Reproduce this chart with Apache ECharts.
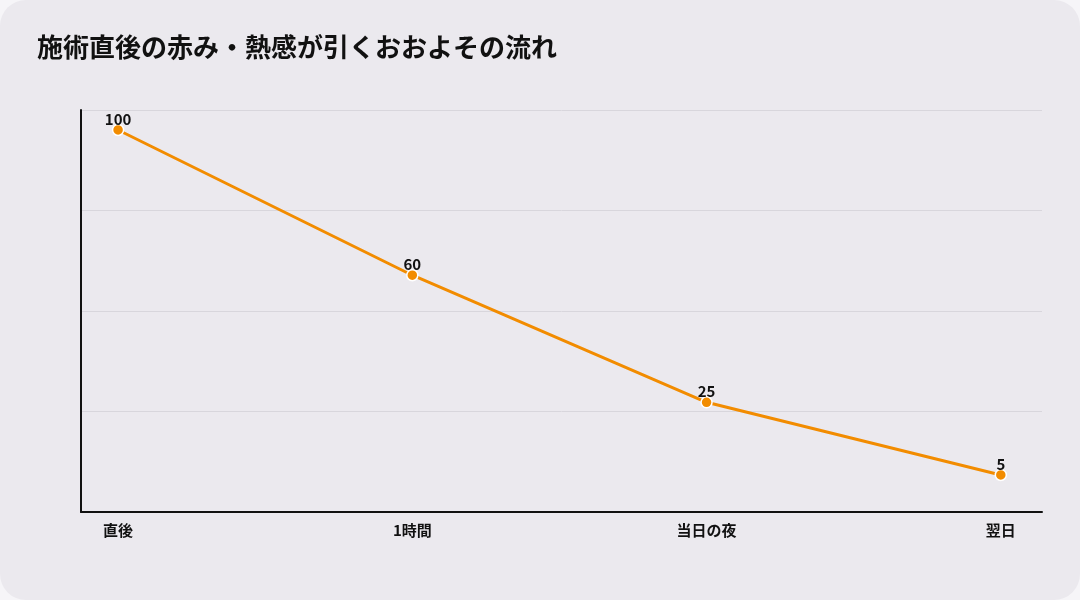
<!DOCTYPE html>
<html lang="ja">
<head>
<meta charset="UTF-8">
<title>施術直後の赤み・熱感が引くおおよその流れ</title>
<script src="https://cdn.jsdelivr.net/npm/echarts@6/dist/echarts.min.js"></script>
<style>
  html, body { width: 100%; height: 100%; margin: 0; background: #f6f5f8; }
  #chart { width: 1080px; height: 600px; background: #ebe9ee; border-radius: 26px; }
</style>
</head>
<body>
<div id="chart"></div>
<script>
// 時点と目安値
var categories = ['直後', '1時間', '当日の夜', '翌日'];
var values = [100, 60, 25, 5];

var chart = echarts.init(document.getElementById('chart'));
var font = '"Noto Sans CJK JP", "Noto Sans", sans-serif';

// x は値軸にして、カテゴリ位置を0,1,2,3に置く
var points = values.map(function (v, i) { return [i, v]; });

chart.setOption({
  backgroundColor: 'transparent',
  title: {
    text: '施術直後の赤み・熱感が引くおおよその流れ',
    left: 32, top: 29,
    textStyle: { fontFamily: font, fontSize: 26, fontWeight: 'bold', color: '#111' }
  },
  grid: { left: 81, right: 38, top: 110, bottom: 88 },
  xAxis: {
    type: 'value',
    min: -0.126, max: 3.14,
    axisLine: { show: true, lineStyle: { color: '#111', width: 2 } },
    axisTick: { show: false },
    splitLine: { show: false },
    axisLabel: {
      customValues: [0, 1, 2, 3],
      formatter: function (v) { return categories[Math.round(v)]; },
      margin: 11,
      fontFamily: font, fontSize: 15, fontWeight: 'bold', color: '#111'
    }
  },
  yAxis: [{
    // 補助線用
    type: 'value', min: 0, max: 4, interval: 1,
    axisLine: { show: true, onZero: false, lineStyle: { color: '#111', width: 2 } },
    axisTick: { show: false },
    axisLabel: { show: false },
    splitLine: { show: true, lineStyle: { color: '#d8d6dc', width: 1 } }
  }, {
    type: 'value', min: -5.2, max: 105.5,
    show: false,
    splitLine: { show: false }
  }],
  series: [{
    type: 'line',
    yAxisIndex: 1,
    data: points,
    symbol: 'circle',
    symbolSize: 11,
    lineStyle: { color: '#f28c00', width: 3 },
    itemStyle: { color: '#f28c00', borderColor: '#ffffff', borderWidth: 1.5 },
    label: {
      show: true, position: 'top', distance: -3,
      formatter: function (p) { return p.value[1]; },
      fontFamily: font, fontSize: 15, fontWeight: 'bold', color: '#111'
    },
    z: 3
  }]
});
window.onresize = chart.resize;
</script>
</body>
</html>
